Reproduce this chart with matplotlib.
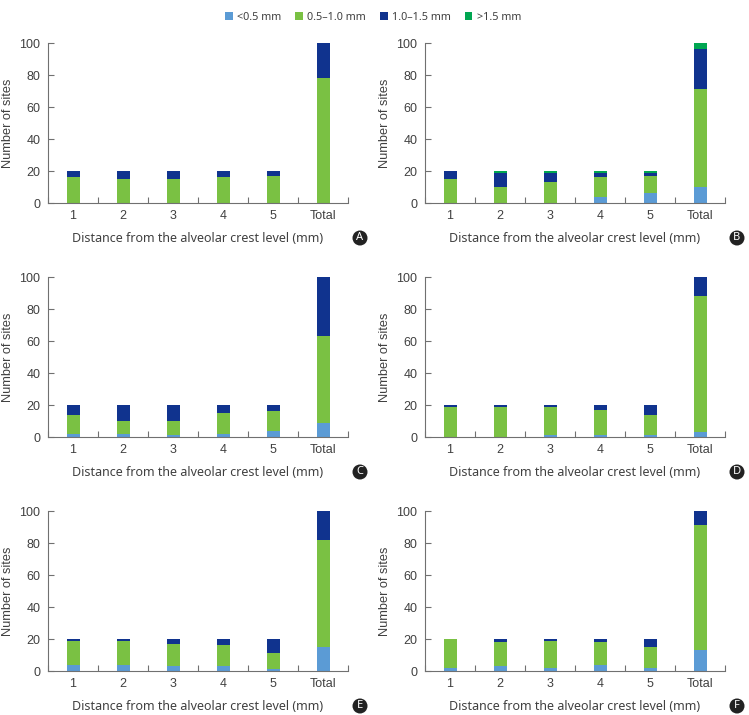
import matplotlib
matplotlib.use("Agg")
import matplotlib.pyplot as plt
from matplotlib.patches import Patch, Circle

categories = ["1", "2", "3", "4", "5", "Total"]
series_names = ["<0.5 mm", "0.5\u20131.0 mm", "1.0\u20131.5 mm", ">1.5 mm"]
colors = ["#5B9BD5", "#7AC143", "#10338E", "#00A651"]

# panel -> [ <0.5, 0.5-1.0, 1.0-1.5, >1.5 ] per category
A_lt05 = [0, 0, 0, 0, 0, 0]
A_05_10 = [16, 15, 15, 16, 17, 78]
A_10_15 = [4, 5, 5, 4, 3, 22]
A_gt15 = [0, 0, 0, 0, 0, 0]

B_lt05 = [0, 0, 0, 4, 6, 10]
B_05_10 = [15, 10, 13, 12, 11, 61]
B_10_15 = [5, 9, 6, 3, 2, 25]
B_gt15 = [0, 1, 1, 1, 1, 4]

C_lt05 = [2, 2, 1, 2, 4, 9]
C_05_10 = [12, 8, 9, 13, 12, 54]
C_10_15 = [6, 10, 10, 5, 4, 37]
C_gt15 = [0, 0, 0, 0, 0, 0]

D_lt05 = [0, 0, 1, 1, 1, 3]
D_05_10 = [19, 19, 18, 16, 13, 85]
D_10_15 = [1, 1, 1, 3, 6, 12]
D_gt15 = [0, 0, 0, 0, 0, 0]

E_lt05 = [4, 4, 3, 3, 1, 15]
E_05_10 = [15, 15, 14, 13, 10, 67]
E_10_15 = [1, 1, 3, 4, 9, 18]
E_gt15 = [0, 0, 0, 0, 0, 0]

F_lt05 = [2, 3, 2, 4, 2, 13]
F_05_10 = [18, 15, 17, 14, 13, 78]
F_10_15 = [0, 2, 1, 2, 5, 9]
F_gt15 = [0, 0, 0, 0, 0, 0]

panels = {
    "A": [A_lt05, A_05_10, A_10_15, A_gt15],
    "B": [B_lt05, B_05_10, B_10_15, B_gt15],
    "C": [C_lt05, C_05_10, C_10_15, C_gt15],
    "D": [D_lt05, D_05_10, D_10_15, D_gt15],
    "E": [E_lt05, E_05_10, E_10_15, E_gt15],
    "F": [F_lt05, F_05_10, F_10_15, F_gt15],
}

yticks = [0, 20, 40, 60, 80, 100]
xlabel = "Distance from the alveolar crest level (mm)"
ylabel = "Number of sites"

W, H = 749, 715
fig = plt.figure(figsize=(W / 100, H / 100), dpi=100)

tick_font = "Liberation Sans"
label_font = "Noto Sans"
txt_color = "#404040"
axis_color = "#707070"

# axes pixel boxes: left, top, width, height
lefts = [48, 425]
tops = [43, 277, 511]
aw, ah = 300, 160

order = ["A", "B", "C", "D", "E", "F"]
for i, key in enumerate(order):
    col = i % 2
    row = i // 2
    l = lefts[col]
    t = tops[row]
    ax = fig.add_axes([l / W, 1 - (t + ah) / H, aw / W, ah / H])
    data = panels[key]
    x = list(range(len(categories)))
    bottom = [0] * len(categories)
    for s, vals in enumerate(data):
        ax.bar(x, vals, width=0.26, bottom=bottom, color=colors[s], linewidth=0)
        bottom = [b + v for b, v in zip(bottom, vals)]
    ax.set_xlim(-0.5, len(categories) - 0.5)
    ax.set_ylim(0, 100)
    ax.set_yticks(yticks)
    ax.set_yticklabels([str(v) for v in yticks], fontfamily=tick_font, fontsize=9, color=txt_color)
    ax.set_xticks(x)
    ax.set_xticklabels(categories, fontfamily=tick_font, fontsize=9, color=txt_color)
    ax.tick_params(axis="x", length=0, pad=5)
    ax.tick_params(axis="y", direction="in", length=4, width=0.8, color=axis_color, pad=5.5)
    ax.set_xticks([k + 0.5 for k in range(-1, len(categories))], minor=True)
    ax.tick_params(axis="x", which="minor", direction="in", length=4, width=0.8, color=axis_color)
    for sp in ["top", "right"]:
        ax.spines[sp].set_visible(False)
    for sp in ["left", "bottom"]:
        ax.spines[sp].set_color(axis_color)
        ax.spines[sp].set_linewidth(0.8)
    ax.set_xlabel(xlabel, fontfamily=label_font, fontsize=9.0, color=txt_color, labelpad=7)
    ax.set_ylabel(ylabel, fontfamily=tick_font, fontsize=9.2, color=txt_color)
    ax.yaxis.set_label_coords(-0.112, 0.5)
    # panel letter badge
    cx = (l + aw + 12) / W
    cy = 1 - (t + ah + 35) / H
    fig.patches.append(Circle((cx * W, cy * H), 7.5, transform=None, facecolor="#222222",
                              edgecolor="none", figure=fig))
    fig.text(cx, cy, key, ha="center", va="center", color="white", fontsize=8,
             fontweight="bold", fontfamily=label_font)

handles = [Patch(facecolor=c, edgecolor="none") for c in colors]
fig.legend(handles, series_names, loc="center", bbox_to_anchor=(0.498, 1 - 17 / H), ncol=4,
           frameon=False, prop={"family": label_font, "size": 7.8}, handlelength=0.7,
           handleheight=0.7, handletextpad=0.4, columnspacing=1.3, labelcolor=txt_color)

fig.savefig("out.png", dpi=100)
